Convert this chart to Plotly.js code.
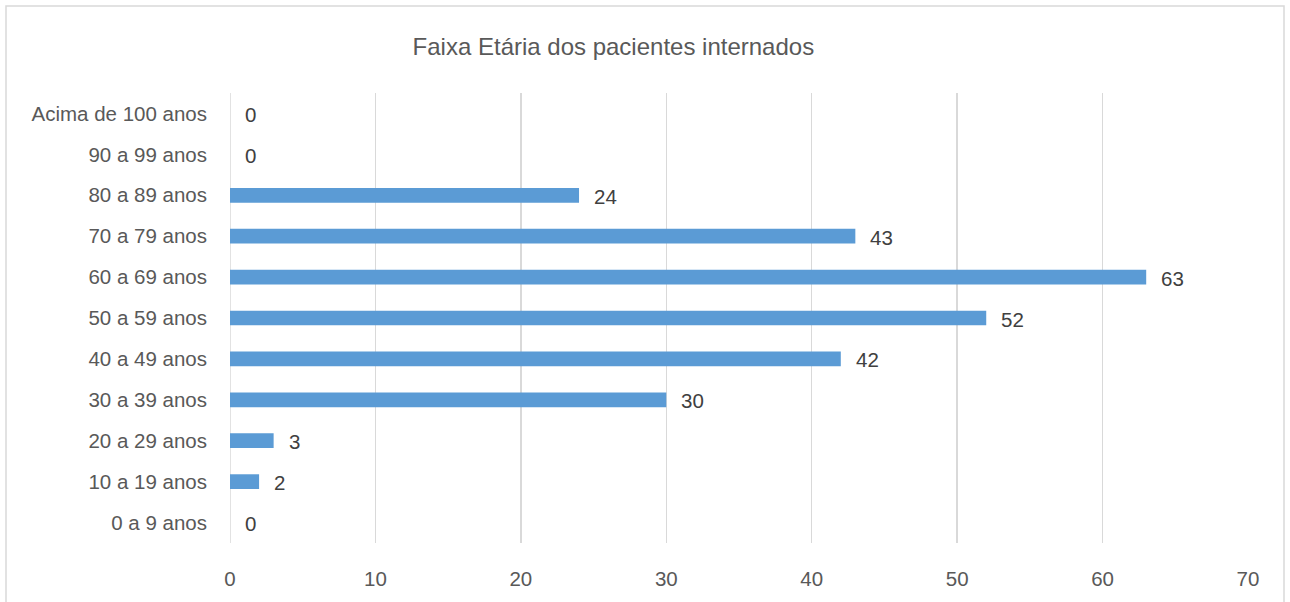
<!DOCTYPE html>
<html>
<head>
<meta charset="utf-8">
<script src="https://cdn.plot.ly/plotly-3.0.1.min.js"></script>
<style>html,body{margin:0;padding:0;background:#fff;}#chart{width:1290px;height:602px;}</style>
</head>
<body>
<div id="chart"></div>
<script>
const categories = ["0 a 9 anos","10 a 19 anos","20 a 29 anos","30 a 39 anos","40 a 49 anos","50 a 59 anos","60 a 69 anos","70 a 79 anos","80 a 89 anos","90 a 99 anos","Acima de 100 anos"];
const values = [0, 2, 3, 30, 42, 52, 63, 43, 24, 0, 0];
const xTicks = [0, 10, 20, 30, 40, 50, 60, 70];
const titleText = "Faixa Etária dos pacientes internados";

const FONT = "Liberation Sans, Arial, sans-serif";
const GREY = "#595959";

const trace = {
  type: "bar",
  orientation: "h",
  x: values,
  y: categories,
  marker: {color: "#5B9BD5"},
  hoverinfo: "x+y"
};

const annotations = values.map((v, i) => ({
  x: v, y: categories[i], xref: "x", yref: "y",
  text: String(v), showarrow: false, xanchor: "left", xshift: 13, yshift: -1,
  font: {family: FONT, size: 20.5, color: "#404040"}
}));

const layout = {
  width: 1290, height: 602,
  margin: {l: 230, r: 42, t: 93, b: 59},
  paper_bgcolor: "#fff", plot_bgcolor: "#fff",
  bargap: 0.64,
  showlegend: false,
  title: {text: titleText, x: 0.4755, xanchor: "center", y: 0.922, yanchor: "middle",
          font: {family: FONT, size: 24, color: GREY}},
  xaxis: {range: [0, 70], tickvals: xTicks, ticktext: xTicks.map(String),
          showgrid: true, gridcolor: "#d9d9d9", gridwidth: 1.5, zeroline: false,
          showline: false, ticks: "", ticklabelstandoff: 21,
          tickfont: {family: FONT, size: 20.5, color: GREY}, fixedrange: true},
  yaxis: {type: "category", categoryorder: "array", categoryarray: categories,
          showgrid: false, zeroline: false, showline: false, ticks: "",
          ticklabelstandoff: 22,
          tickfont: {family: FONT, size: 20.5, color: GREY}, fixedrange: true},
  shapes: [
    {type: "line", xref: "x", yref: "paper", x0: 0, x1: 0, y0: 0, y1: 1,
     line: {color: "#d9d9d9", width: 1.5}, layer: "below"},
    {type: "rect", xref: "paper", yref: "paper",
     x0: (6 - 230) / 1018, x1: (1284 - 230) / 1018,
     y0: -0.2, y1: (543 - 6) / 450,
     line: {color: "#d9d9d9", width: 1.5}, fillcolor: "rgba(0,0,0,0)"}
  ],
  annotations: annotations
};

Plotly.newPlot("chart", [trace], layout, {displayModeBar: false, staticPlot: true});
</script>
</body>
</html>
